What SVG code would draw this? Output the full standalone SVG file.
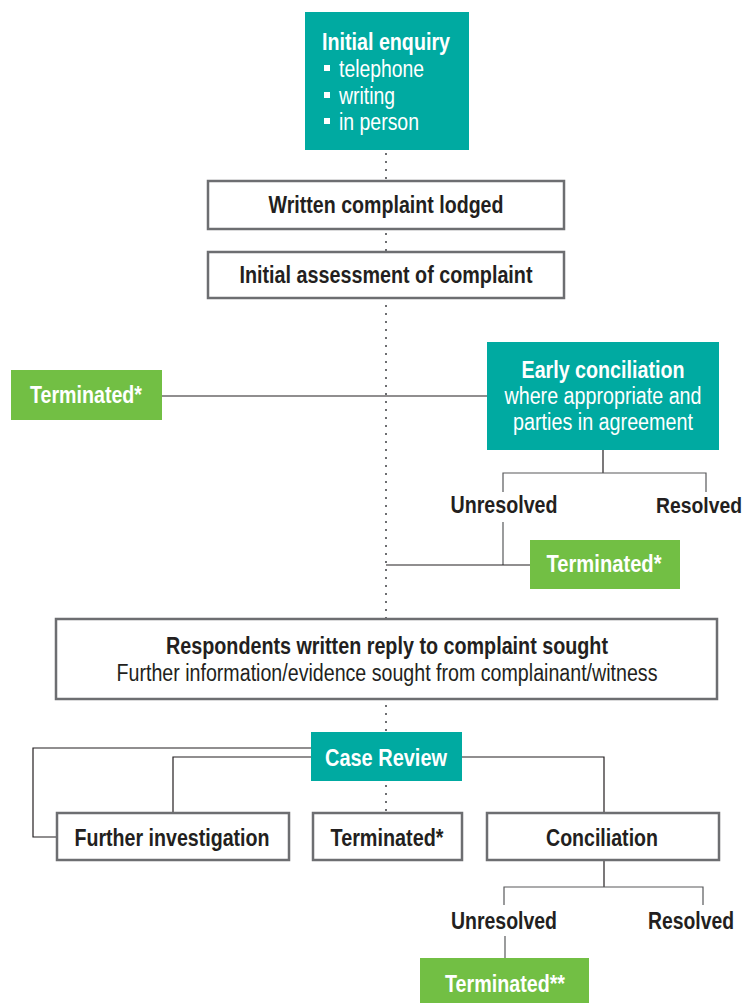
<svg xmlns="http://www.w3.org/2000/svg" width="749" height="1003" viewBox="0 0 749 1003">
<style>
text{font-family:"Liberation Sans",Arial,sans-serif;font-size:23px;}
.teal{fill:#00aaa1;}
.green{fill:#72bf44;}
.box{fill:#fff;stroke:#6d6e71;stroke-width:2.5;}
.t{text-anchor:middle;fill:#231f20;}
.b{font-weight:bold;}
.w{fill:#fff;}
.ln{fill:none;stroke:#231f20;stroke-width:1.2;}
.lg{fill:none;stroke:#58595b;stroke-width:1.2;}
.dot{fill:none;stroke:#6d6e71;stroke-width:2;stroke-dasharray:2 6;}
</style>
<g id="connectors">
<line class="dot" x1="386" y1="153" x2="386" y2="812"/>
<line class="ln" x1="162" y1="396" x2="487" y2="396"/>
<polyline class="ln" points="603,450 603,473"/>
<polyline class="lg" points="503,492 503,473 706,473 706,492"/>
<polyline class="lg" points="503,522 503,565"/>
<polyline class="ln" points="386,565 530,565"/>
<polyline class="ln" points="311,748 33,748 33,837 57,837"/>
<polyline class="ln" points="311,757 173,757 173,812"/>
<polyline class="ln" points="462,757 604,757 604,812"/>
<polyline class="ln" points="604,861 604,887"/>
<polyline class="lg" points="504,905 504,887 703,887 703,905"/>
<polyline class="lg" points="505,936 505,958"/>
</g>
<g id="initial-enquiry">
<rect class="teal" x="305" y="12" width="164" height="138"/>
<text x="322" y="50" class="b w" textLength="128" lengthAdjust="spacingAndGlyphs">Initial enquiry</text>
<rect x="324" y="65" width="6" height="6" fill="#fff"/>
<text x="339" y="77" class="w" textLength="85" lengthAdjust="spacingAndGlyphs">telephone</text>
<rect x="324" y="92" width="6" height="6" fill="#fff"/>
<text x="339" y="104" class="w" textLength="56" lengthAdjust="spacingAndGlyphs">writing</text>
<rect x="324" y="118" width="6" height="6" fill="#fff"/>
<text x="339" y="130" class="w" textLength="80" lengthAdjust="spacingAndGlyphs">in person</text>
</g>
<g id="written-complaint">
<rect class="box" x="208" y="181" width="356" height="48"/>
<text class="t b" x="386" y="213" textLength="235" lengthAdjust="spacingAndGlyphs">Written complaint lodged</text>
</g>
<g id="initial-assessment">
<rect class="box" x="208" y="252" width="356" height="46"/>
<text class="t b" x="386" y="283" textLength="293" lengthAdjust="spacingAndGlyphs">Initial assessment of complaint</text>
</g>
<g id="terminated-1">
<rect class="green" x="11" y="370" width="151" height="50"/>
<text class="t b w" x="86" y="403" textLength="112" lengthAdjust="spacingAndGlyphs">Terminated*</text>
</g>
<g id="early-conciliation">
<rect class="teal" x="487" y="342" width="232" height="108"/>
<text class="t b w" x="603" y="378" textLength="163" lengthAdjust="spacingAndGlyphs">Early conciliation</text>
<text class="t w" x="603" y="404" textLength="197" lengthAdjust="spacingAndGlyphs">where appropriate and</text>
<text class="t w" x="603" y="430" textLength="180" lengthAdjust="spacingAndGlyphs">parties in agreement</text>
</g>
<g id="unresolved-1"><text class="t b" x="504" y="513" textLength="107" lengthAdjust="spacingAndGlyphs">Unresolved</text></g>
<g id="resolved-1"><text class="t b" x="699" y="513" style="font-size:22px" textLength="86" lengthAdjust="spacingAndGlyphs">Resolved</text></g>
<g id="terminated-2">
<rect class="green" x="530" y="540" width="150" height="49"/>
<text class="t b w" x="604" y="572" textLength="115" lengthAdjust="spacingAndGlyphs">Terminated*</text>
</g>
<g id="respondents">
<rect class="box" x="56" y="619" width="661" height="80"/>
<text class="t b" x="387" y="654" textLength="442" lengthAdjust="spacingAndGlyphs">Respondents written reply to complaint sought</text>
<text class="t" x="387" y="681" textLength="541" lengthAdjust="spacingAndGlyphs">Further information/evidence sought from complainant/witness</text>
</g>
<g id="case-review">
<rect class="teal" x="311" y="732" width="151" height="49"/>
<text class="t b w" x="386" y="766" textLength="122" lengthAdjust="spacingAndGlyphs">Case Review</text>
</g>
<g id="further-investigation">
<rect class="box" x="57" y="813" width="232" height="47"/>
<text class="t b" x="172" y="846" textLength="195" lengthAdjust="spacingAndGlyphs">Further investigation</text>
</g>
<g id="terminated-3">
<rect class="box" x="313" y="813" width="149" height="47"/>
<text class="t b" x="387" y="846" textLength="113" lengthAdjust="spacingAndGlyphs">Terminated*</text>
</g>
<g id="conciliation">
<rect class="box" x="487" y="813" width="232" height="47"/>
<text class="t b" x="602" y="846" textLength="112" lengthAdjust="spacingAndGlyphs">Conciliation</text>
</g>
<g id="unresolved-2"><text class="t b" x="504" y="929" textLength="106" lengthAdjust="spacingAndGlyphs">Unresolved</text></g>
<g id="resolved-2"><text class="t b" x="691" y="929" textLength="86" lengthAdjust="spacingAndGlyphs">Resolved</text></g>
<g id="terminated-4">
<rect class="green" x="420" y="958" width="169" height="45"/>
<text class="t b w" x="505" y="992" textLength="120" lengthAdjust="spacingAndGlyphs">Terminated**</text>
</g>
</svg>
